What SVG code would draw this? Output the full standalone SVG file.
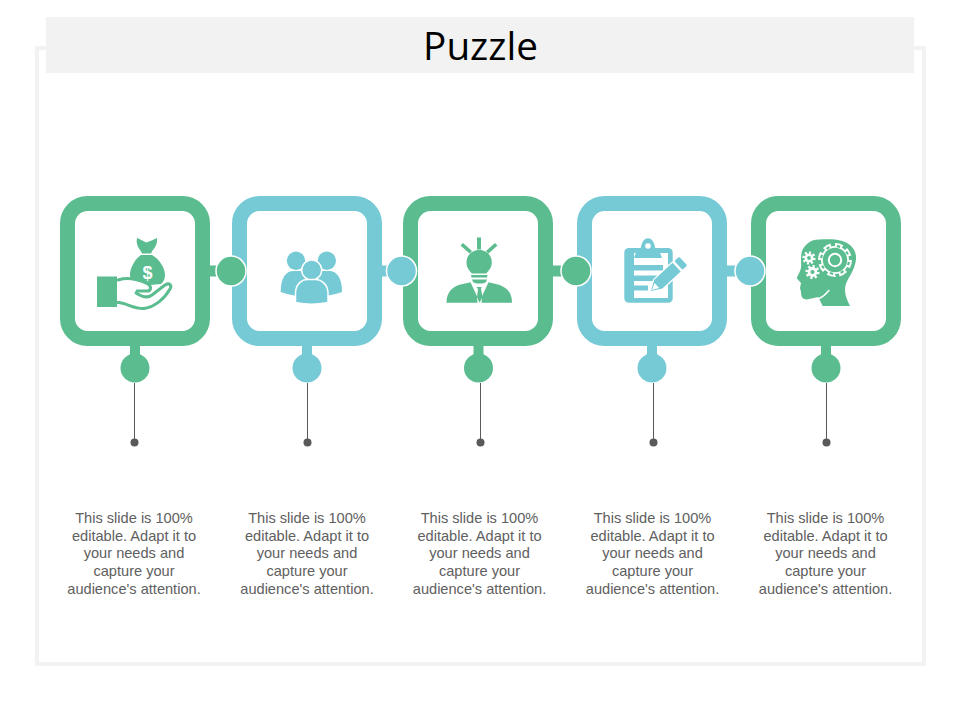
<svg xmlns="http://www.w3.org/2000/svg" width="960" height="720" viewBox="0 0 960 720">
<style>
.g{fill:#5bbd8f}.b{fill:#76cad6}
.ring{stroke-width:15;fill:#fff}
.ring.g{stroke:#5bbd8f}.ring.b{stroke:#76cad6}
.lnk{stroke:#fff;stroke-width:1.5}
.ln{stroke:#595959;stroke-width:1;fill:none}
.dot{fill:#595959}
.t{font:14.6px "Liberation Sans",Arial,sans-serif;fill:#606060;text-anchor:middle}
.w{fill:#fff}
.ws{fill:none;stroke:#fff}
.gs{fill:none;stroke:#5bbd8f}
</style>
<rect x="37" y="48" width="887" height="616" fill="#fff" stroke="#f2f2f2" stroke-width="4"/>
<g id="title"><rect x="46" y="17" width="868" height="56" fill="#f2f2f2"/>
<text x="480.500" y="60" font-family="'Open Sans','Noto Sans',sans-serif" font-size="38.700" text-anchor="middle" fill="#000">Puzzle</text></g>
<g id="connectors">
<rect x="205" y="265.500" width="20" height="11" class="g"/>
<rect x="377" y="265.500" width="20" height="11" class="b"/>
<rect x="548" y="265.500" width="20" height="11" class="g"/>
<rect x="722" y="265.500" width="20" height="11" class="b"/>
<rect x="130" y="341" width="10" height="20" class="g"/>
<rect x="302" y="341" width="10" height="20" class="b"/>
<rect x="473.500" y="341" width="10" height="20" class="g"/>
<rect x="647" y="341" width="10" height="20" class="b"/>
<rect x="821" y="341" width="10" height="20" class="g"/>
<path class="ln" d="M134.500 383V442M307.500 383V442M480.500 383V442M653.500 383V442M826.500 383V442"/>
<g class="dot"><circle cx="134.500" cy="442.500" r="4"/><circle cx="307.500" cy="442.500" r="4"/><circle cx="480.500" cy="442.500" r="4"/><circle cx="653.500" cy="442.500" r="4"/><circle cx="826.500" cy="442.500" r="4"/></g>
</g>
<g id="node1">
<rect class="ring g" x="67.500" y="203.500" width="135" height="135" rx="20"/>
<g class="g">
<path d="M137 238c3 1 6.500 3.500 9.500 4.500 3-1 7-3 10.500-4.500 .5 5-1 9-4.500 12.500l-1.500 3h-9l-1.500-3c-3-3.500-4.500-7.500-3.500-12.500z"/>
<path d="M141 255h11c6 3 13 12 13 20 0 4-1.500 7-4 9l-11 1c-6-1.500-13-4-18-5-1.500-1.500-2-3-2-5 0-8 6-17 11-20z"/>
<rect x="97" y="276.500" width="20" height="30.500"/>
</g>
<g class="gs" stroke-width="3" stroke-linejoin="round" stroke-linecap="round">
<path d="M118 280C128 277 140 279 148 284 152 287 151 291 147 291H137"/>
<path d="M136 293C142 297 148 298 152 295L165 285C170 282 172 286 170 289 165 298 155 307 144 308.500 133 309 127 303 118 302.500"/>
</g>
<text x="147.500" y="279" font-family="'Liberation Sans',sans-serif" font-size="18" font-weight="700" text-anchor="middle" class="w">$</text>
</g>
<g id="node2">
<rect class="ring b" x="239.500" y="203.500" width="135" height="135" rx="20"/>
<g class="b">
<circle cx="296" cy="260.700" r="9.200"/><circle cx="326.800" cy="260.700" r="9.200"/>
<path d="M280.700 292c0-14 5-21 13-21h7c4 0 9 4 11 10l-10 15c-8 0-15-2-21-4z"/>
<path d="M342 292c0-14-5-21-13-21h-7c-4 0-9 4-11 10l10 15c8 0 15-2 21-4z"/>
</g>
<g class="b" stroke="#fff" stroke-width="1.500">
<circle cx="311.700" cy="270" r="10"/>
<path d="M295.500 302.500v-9c0-9 6-14 12-14h8c6 0 12.500 5 12.500 14v9c-10 2-23 2-32.500 0z"/>
</g>
</g>
<g id="node3">
<rect class="ring g" x="410.500" y="203.500" width="135" height="135" rx="20"/>
<g class="g">
<rect x="477" y="237.500" width="4" height="12"/>
<path d="M463 243l9 8-2.500 2.500-9-8zM495 243l-9 8 2.500 2.500 9-8z"/>
<path d="M479.300 250c7.500 0 12.500 5.500 12.500 12.500 0 5-3 8-5.500 11h-14.500c-2.500-3-5.300-6-5.300-11 0-7 5.300-12.500 12.800-12.500z"/>
<path d="M471 275h16.500l-.5 2.500h-15.500zM472 279.500h15l-1 2.500c-2 2-11 2-13 0z"/>
<path d="M446.500 302.700c0-11 6-15.500 13-18l11-2.500 6.500 14 .5 6.500zM512 302.700c0-11-6-15.500-13-18l-10.500-2.500-6.500 14-.5 6.500z"/>
<path d="M476.500 287h5l-.5 2 1.500 8-3 5.700-2.500-5.700 1-8z"/>
</g>
</g>
<g id="node4">
<rect class="ring b" x="584.500" y="203.500" width="135" height="135" rx="20"/>
<rect class="b" x="624.300" y="248" width="48.400" height="54.700" rx="4.500"/>
<rect class="w" x="634" y="253" width="34" height="45"/>
<path class="b" d="M637 250h3.500c.5-7 3.500-11.700 7.500-11.700s7 4.700 7.500 11.700h3.500l3 8h-28z"/>
<circle cx="648" cy="246" r="2.800" class="w"/>
<rect class="b" x="633" y="265" width="30" height="5.500"/><rect class="b" x="633" y="275.500" width="25" height="5.500"/><rect class="b" x="633" y="285.500" width="15" height="5"/>
<g transform="translate(651 291) rotate(-43)">
<path d="M0 0L10-6H35V6H10z" class="b" stroke="#fff" stroke-width="2.500" stroke-linejoin="round"/>
<path d="M0 0L10-6H35V6H10z" class="b"/>
<path d="M1.500 0L8-3.500V3.500z" class="w"/>
<rect class="b" x="37.500" y="-6" width="6.500" height="12" rx="1.500"/>
</g>
</g>
<g id="node5">
<rect class="ring g" x="758.500" y="203.500" width="135" height="135" rx="20"/>
<path class="g" d="M850 306C847 300 845 295 845 290 845 282 850 277 853 270 855 265 856.500 260 856 256 855 250 853 248 850 245 844 240 835 239 826.700 239.300 819 239 814 239.500 810 241.700 805 245 802 249 801.500 253 800.500 258 801.500 263 801 268 800 272 798 275 796.700 278.300L801 283 800 288 801 292C801 295 801.500 297 802.700 298 804 299.500 806 299.500 808 299.300L818.300 297 822.700 306z"/>
<g>
<circle cx="835" cy="260" r="14.500" class="ws" stroke-width="5" pathLength="80" stroke-dasharray="6.500 3.500"/>
<circle cx="835" cy="260" r="14" class="w"/>
<circle cx="835" cy="260" r="14" class="gs" stroke-width="2.200" pathLength="80" stroke-dasharray="3 7" stroke-dashoffset="-1.750"/>
<circle cx="835" cy="260" r="12.200" class="g"/>
<circle cx="835" cy="260" r="6.200" class="ws" stroke-width="2"/>
<circle cx="809" cy="258" r="3.200" class="ws" stroke-width="2.600"/>
<circle cx="809" cy="258" r="5.300" class="ws" stroke-width="2.600" pathLength="80" stroke-dasharray="5 5"/>
<circle cx="812.500" cy="272" r="3.500" class="ws" stroke-width="2.800"/>
<circle cx="812.500" cy="272" r="5.700" class="ws" stroke-width="2.800" pathLength="80" stroke-dasharray="5 5"/>
<path class="ws" d="M829.300 290C826 294 823 297 819 298.500" stroke-width="1.500"/>
</g>
</g>
<g id="nodes-dots">
<circle class="g lnk" cx="231" cy="271" r="15"/>
<circle class="b lnk" cx="401.500" cy="271" r="15"/>
<circle class="g lnk" cx="576" cy="271" r="15"/>
<circle class="b lnk" cx="750" cy="271" r="15"/>
<circle class="g" cx="135" cy="368" r="14.500"/>
<circle class="b" cx="307" cy="368" r="14.500"/>
<circle class="g" cx="478.500" cy="368" r="14.500"/>
<circle class="b" cx="652" cy="368" r="14.500"/>
<circle class="g" cx="826" cy="368" r="14.500"/>
</g>
<g id="text1" class="t"><text x="134" y="523">This slide is 100%</text><text x="134" y="541">editable. Adapt it to</text><text x="134" y="558">your needs and</text><text x="134" y="576">capture your</text><text x="134" y="594">audience's attention.</text></g>
<g id="text2" class="t"><text x="307" y="523">This slide is 100%</text><text x="307" y="541">editable. Adapt it to</text><text x="307" y="558">your needs and</text><text x="307" y="576">capture your</text><text x="307" y="594">audience's attention.</text></g>
<g id="text3" class="t"><text x="479.500" y="523">This slide is 100%</text><text x="479.500" y="541">editable. Adapt it to</text><text x="479.500" y="558">your needs and</text><text x="479.500" y="576">capture your</text><text x="479.500" y="594">audience's attention.</text></g>
<g id="text4" class="t"><text x="652.500" y="523">This slide is 100%</text><text x="652.500" y="541">editable. Adapt it to</text><text x="652.500" y="558">your needs and</text><text x="652.500" y="576">capture your</text><text x="652.500" y="594">audience's attention.</text></g>
<g id="text5" class="t"><text x="825.500" y="523">This slide is 100%</text><text x="825.500" y="541">editable. Adapt it to</text><text x="825.500" y="558">your needs and</text><text x="825.500" y="576">capture your</text><text x="825.500" y="594">audience's attention.</text></g>
</svg>
